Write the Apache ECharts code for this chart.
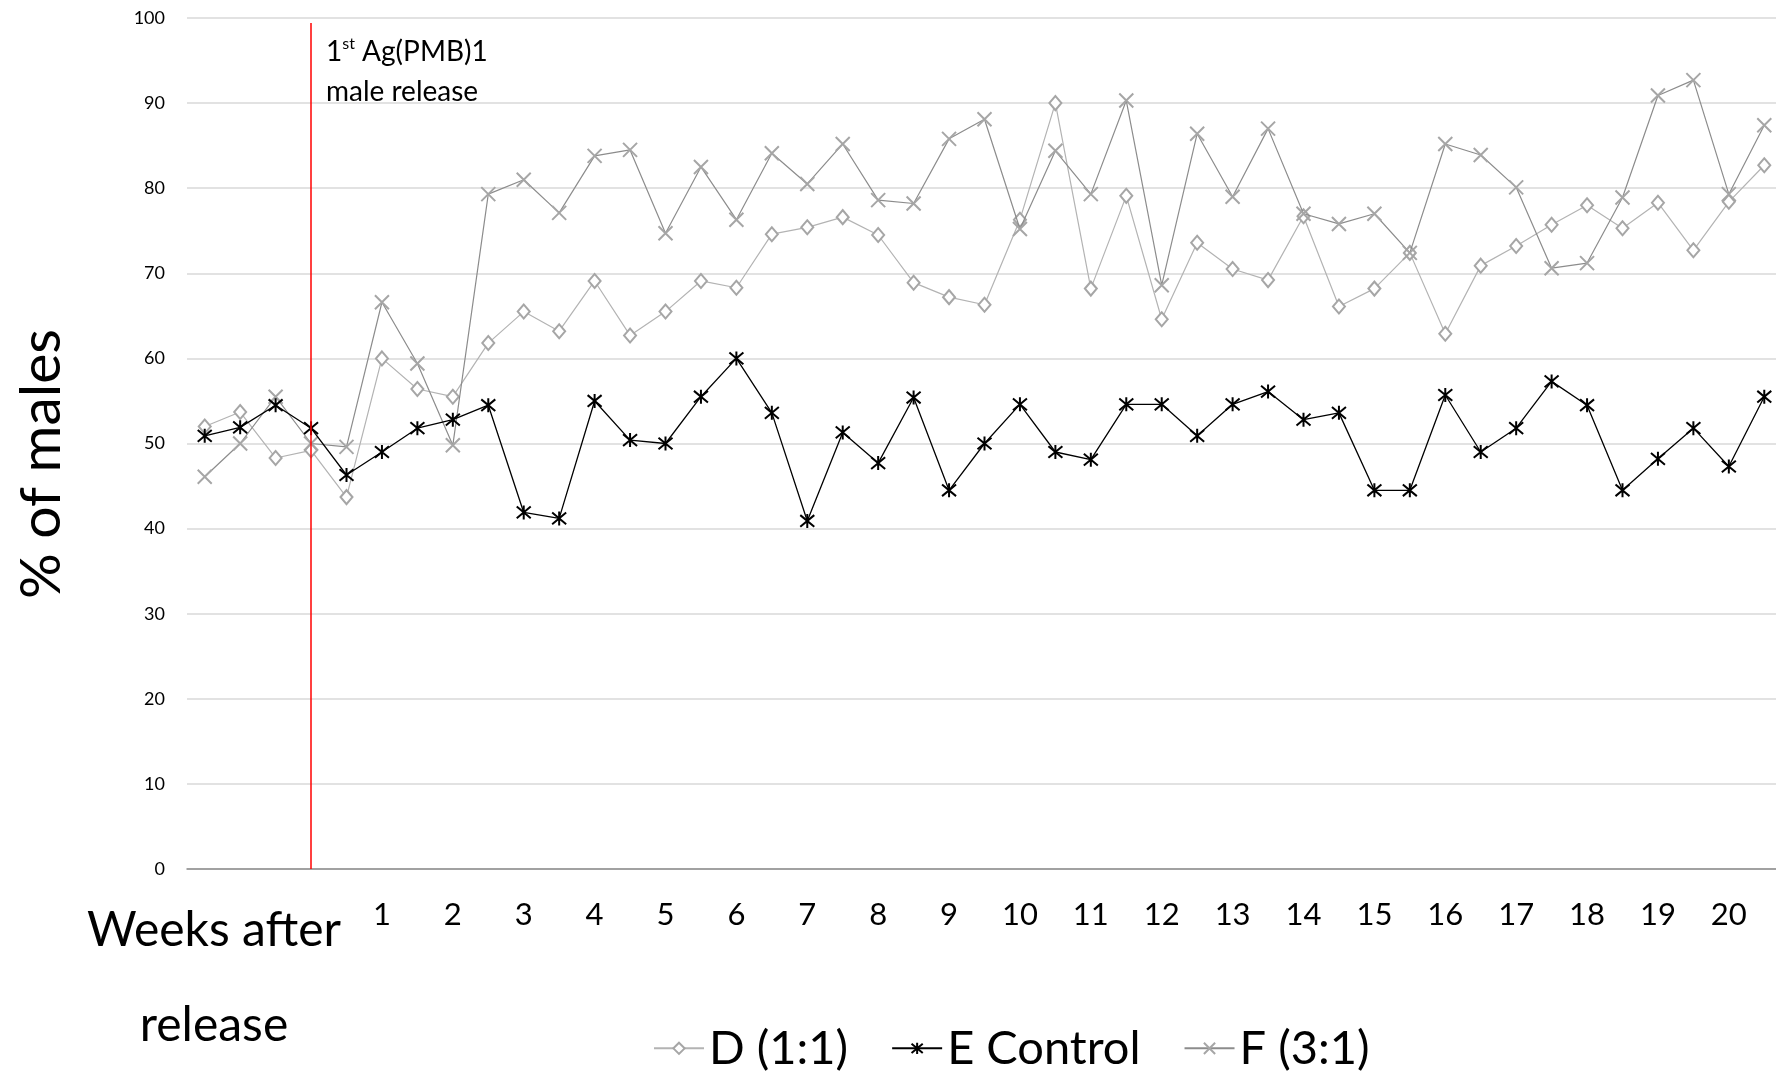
<!DOCTYPE html>
<html lang="en">

<head>
  <script src="https://cdn.jsdelivr.net/npm/echarts@6.0.0/dist/echarts.min.js"></script>
  <style>
    html, body { margin: 0; padding: 0; background: #fff; }
  </style>
</head>

<body>
  <div id="malesChart" style="width: 1776px;height:1071px;"></div>

  <script type="text/javascript">

    // 45 sampling points, week numbers only under every second one
    var weekLabels = ['', '', '', '', '', '1', '', '2', '', '3', '', '4', '', '5', '', '6', '', '7', '', '8', '', '9', '', '10',
        '', '11', '', '12', '', '13', '', '14', '', '15', '', '16', '', '17', '', '18', '', '19', '', '20', ''];

    var dValues = [52.0, 53.7, 48.3, 49.2, 43.7, 60.0, 56.4, 55.5, 61.8, 65.5, 63.2, 69.1, 62.7, 65.5, 69.1, 68.3,
        74.6, 75.4, 76.6, 74.5, 68.9, 67.2, 66.3, 76.3, 90.0, 68.2, 79.1, 64.6, 73.6, 70.5, 69.2, 76.7, 66.1, 68.2,
        72.4, 62.9, 70.9, 73.2, 75.7, 78.0, 75.3, 78.3, 72.7, 78.4, 82.7];

    var eValues = [50.9, 51.9, 54.5, 51.8, 46.3, 49.0, 51.8, 52.8, 54.5, 41.9, 41.2, 55.0, 50.4, 50.0, 55.5, 60.0,
        53.6, 40.9, 51.3, 47.7, 55.4, 44.5, 50.0, 54.6, 49.0, 48.1, 54.6, 54.6, 50.9, 54.6, 56.1, 52.8, 53.6, 44.5,
        44.5, 55.7, 49.0, 51.8, 57.3, 54.5, 44.5, 48.2, 51.8, 47.3, 55.5];

    var fValues = [46.1, 50.0, 55.5, 50.0, 49.6, 66.6, 59.4, 49.8, 79.3, 81.0, 77.1, 83.8, 84.5, 74.7, 82.5, 76.3,
        84.1, 80.5, 85.2, 78.6, 78.2, 85.8, 88.1, 75.2, 84.4, 79.3, 90.3, 68.6, 86.4, 79.0, 87.0, 77.0, 75.8, 77.0,
        72.4, 85.2, 83.9, 80.1, 70.6, 71.2, 78.9, 90.9, 92.7, 79.3, 87.4];

    var releaseIndex = 3;

    var font = 'Lato';
    var crossSymbol = 'path://M0,0L10,10M10,0L0,10';
    var starSymbol = 'path://M1,1L11,11M11,1L1,11M6,0L6,12';

    const chart = echarts.init(document.getElementById('malesChart'));

    let option = {
        animation: false,
        textStyle: { fontFamily: font },
        grid: { left: 187, top: 18, right: -6, bottom: 202, outerBoundsMode: 'none', containLabel: false },
        legend: {
            left: 648,
            top: 1008,
            itemWidth: 50,
            itemHeight: 14,
            itemGap: 43,
            textStyle: { fontFamily: font, fontSize: 47, color: '#000' },
            data: ['D (1:1)', 'E Control', 'F (3:1)']
        },
        xAxis: {
            type: 'category',
            data: weekLabels,
            boundaryGap: true,
            axisLine: { lineStyle: { color: '#8c8c8c', width: 1.5 } },
            axisTick: { interval: 0, length: 7, lineStyle: { color: '#8c8c8c', width: 1.5 } },
            axisLabel: { interval: 0, margin: 23, fontSize: 31, color: '#000', fontFamily: font },
            splitLine: { show: false }
        },
        yAxis: {
            type: 'value',
            min: 0,
            max: 100,
            interval: 10,
            axisLine: { show: false },
            axisTick: { show: false },
            axisLabel: { margin: 22, fontSize: 18, color: '#000', fontFamily: font },
            splitLine: { lineStyle: { color: '#d9d9d9', width: 1.5 } }
        },
        graphic: [
            {
                type: 'text',
                x: 42,
                y: 464,
                rotation: Math.PI / 2,
                style: {
                    text: '% of males',
                    fontFamily: font,
                    fontSize: 57,
                    fill: '#000',
                    align: 'center',
                    verticalAlign: 'middle'
                }
            },
            {
                type: 'text',
                x: 214,
                y: 883,
                style: {
                    text: 'Weeks after\nrelease',
                    fontFamily: font,
                    fontSize: 48,
                    lineHeight: 95,
                    fill: '#000',
                    align: 'center',
                    verticalAlign: 'top'
                }
            },
            {
                type: 'text',
                x: 326,
                y: 32,
                style: {
                    text: '1{sup|st} Ag(PMB)1\nmale release',
                    fontFamily: font,
                    fontSize: 28,
                    lineHeight: 40,
                    fill: '#000',
                    rich: {
                        sup: { fontSize: 16, fontFamily: font, fill: '#000', verticalAlign: 'top', padding: [0, 0, 12, 0] }
                    }
                }
            }
        ],
        series: [
            {
                name: 'D (1:1)',
                type: 'line',
                data: dValues,
                z: 2,
                symbol: 'diamond',
                symbolSize: [12, 14],
                lineStyle: { color: '#b3b3b3', width: 1.2 },
                itemStyle: { color: '#fff', borderColor: '#a6a6a6', borderWidth: 2 }
            },
            {
                name: 'E Control',
                type: 'line',
                data: eValues,
                z: 4,
                symbol: starSymbol,
                symbolSize: 14,
                lineStyle: { color: '#000', width: 1.3 },
                itemStyle: { color: '#000', borderColor: '#000', borderWidth: 2 },
                markLine: {
                    silent: true,
                    symbol: ['none', 'none'],
                    label: { show: false },
                    lineStyle: { color: '#ff0000', width: 1.5, type: 'solid' },
                    data: [[{ coord: [releaseIndex, 99.4] }, { coord: [releaseIndex, 0] }]]
                }
            },
            {
                name: 'F (3:1)',
                type: 'line',
                data: fValues,
                z: 3,
                symbol: crossSymbol,
                symbolSize: 14,
                lineStyle: { color: '#8c8c8c', width: 1.2 },
                itemStyle: { color: '#a6a6a6', borderColor: '#a6a6a6', borderWidth: 2 }
            }
        ]
    };

    chart.setOption(option);
  </script>
</body>

</html>
